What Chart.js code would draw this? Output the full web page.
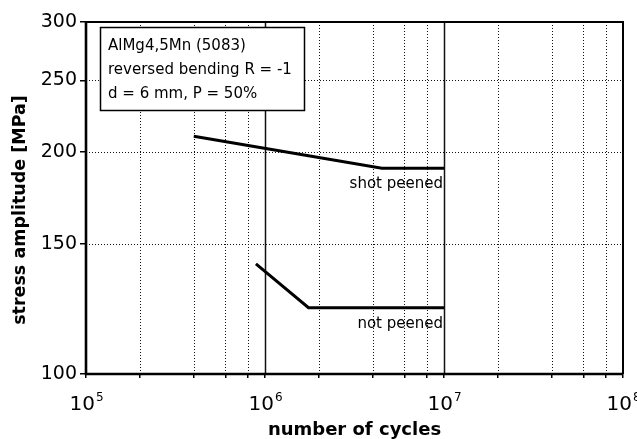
<!DOCTYPE html>
<html>
<head>
<meta charset="utf-8">
<script src="https://cdn.jsdelivr.net/npm/chart.js@4/dist/chart.umd.min.js"></script>
<style>
  html, body { margin: 0; padding: 0; background: #fff; }
  #wrap { width: 637px; height: 439px; }
</style>
</head>
<body>
<div id="wrap"><canvas id="c" width="637" height="439"></canvas></div>
<script>
// S-N curves, AlMg4,5Mn (5083), reversed bending
const shotPeenedCycles = [4e5, 4.5e6, 1e7];
const shotPeenedStress = [210, 190, 190];
const notPeenedCycles  = [8.9e5, 1.75e6, 1e7];
const notPeenedStress  = [141, 123, 123];

const xTickValues = [1e5, 2e5, 4e5, 6e5, 8e5,
                     1e6, 2e6, 4e6, 6e6, 8e6,
                     1e7, 2e7, 4e7, 6e7, 8e7, 1e8];
const yTickValues = [100, 150, 200, 250, 300];
const xDecades = [1e5, 1e6, 1e7, 1e8];

const infoLines = ['AlMg4,5Mn (5083)', 'reversed bending R = -1', 'd = 6 mm, P = 50%'];
const seriesNames = ['shot peened', 'not peened'];
const yTitle = 'stress amplitude [MPa]';
const xTitle = 'number of cycles';

const FONT = "'DejaVu Sans', 'Liberation Sans', sans-serif";
Chart.defaults.font.family = FONT;
Chart.defaults.color = '#000';

function toPoints(xs, ys) { return xs.map((x, i) => ({ x: x, y: ys[i] })); }

// grid lines, frame, info box, curve labels and exponent tick labels
const decor = {
  id: 'decor',
  beforeDatasetsDraw(chart) {
    const { ctx, chartArea: a, scales: { x, y } } = chart;
    ctx.save();
    ctx.strokeStyle = '#111';
    // vertical grid
    xTickValues.forEach(v => {
      if (v === xTickValues[0] || v === xTickValues[xTickValues.length - 1]) return;
      const px = Math.round(x.getPixelForValue(v)) + 0.5;
      const decade = xDecades.includes(v);
      ctx.setLineDash(decade ? [] : [1, 2]);
      ctx.lineWidth = decade ? 1.5 : 1;
      ctx.beginPath(); ctx.moveTo(px, a.top); ctx.lineTo(px, a.bottom); ctx.stroke();
    });
    // horizontal grid
    ctx.setLineDash([1, 2]);
    ctx.lineWidth = 1;
    yTickValues.slice(1, -1).forEach(v => {
      const py = Math.round(y.getPixelForValue(v)) + 0.5;
      ctx.beginPath(); ctx.moveTo(a.left, py); ctx.lineTo(a.right, py); ctx.stroke();
    });
    ctx.setLineDash([]);

    // info box
    const bx = a.left + 14, by = a.top + 5, bw = 204, bh = 83;
    ctx.fillStyle = '#fff';
    ctx.fillRect(bx, by, bw, bh);
    ctx.strokeStyle = '#000';
    ctx.lineWidth = 1.5;
    ctx.strokeRect(bx + 0.5, by + 0.5, bw, bh);
    ctx.fillStyle = '#000';
    ctx.font = '15px ' + FONT;
    ctx.textAlign = 'left';
    ctx.textBaseline = 'middle';
    infoLines.forEach((t, i) => ctx.fillText(t, bx + 8, by + 19 + i * 24));
    ctx.restore();
  },
  afterDatasetsDraw(chart) {
    const { ctx, chartArea: a, scales: { x, y } } = chart;
    ctx.save();
    // curve labels under the run-out end of each curve
    ctx.fillStyle = '#000';
    ctx.font = '15px ' + FONT;
    ctx.textAlign = 'right';
    ctx.textBaseline = 'middle';
    chart.data.datasets.forEach((ds, i) => {
      const last = ds.data[ds.data.length - 1];
      ctx.fillText(seriesNames[i], x.getPixelForValue(last.x) - 1, y.getPixelForValue(last.y) + 16);
    });

    // frame
    ctx.strokeStyle = '#000';
    ctx.lineWidth = 2;
    ctx.beginPath();
    ctx.moveTo(a.left, a.top); ctx.lineTo(a.right, a.top); ctx.lineTo(a.right, a.bottom);
    ctx.stroke();
    ctx.lineWidth = 2.6;
    ctx.beginPath();
    ctx.moveTo(a.left, a.top); ctx.lineTo(a.left, a.bottom); ctx.lineTo(a.right, a.bottom);
    ctx.stroke();

    // decade labels 10^n
    ctx.textAlign = 'left';
    ctx.textBaseline = 'alphabetic';
    xDecades.forEach(v => {
      const px = x.getPixelForValue(v);
      const exp = String(Math.round(Math.log10(v)));
      ctx.font = '20px ' + FONT;
      const wb = ctx.measureText('10').width;
      ctx.font = '12px ' + FONT;
      const we = ctx.measureText(exp).width;
      const x0 = px - (wb + we) / 2;
      ctx.font = '20px ' + FONT;
      ctx.fillText('10', x0, a.bottom + 36);
      ctx.font = '12px ' + FONT;
      ctx.fillText(exp, x0 + wb + 1, a.bottom + 27);
    });

    // axis titles
    ctx.textAlign = 'center';
    ctx.textBaseline = 'middle';
    ctx.font = 'bold 18px ' + FONT;
    ctx.fillText(xTitle, (a.left + a.right) / 2, a.bottom + 56);
    ctx.save();
    ctx.translate(20, (a.top + a.bottom) / 2 + 12);
    ctx.rotate(-Math.PI / 2);
    ctx.font = 'bold 17.5px ' + FONT;
    ctx.fillText(yTitle, 0, 0);
    ctx.restore();
    ctx.restore();
  }
};

new Chart(document.getElementById('c'), {
  type: 'scatter',
  data: {
    datasets: [
      { label: seriesNames[0], data: toPoints(shotPeenedCycles, shotPeenedStress) },
      { label: seriesNames[1], data: toPoints(notPeenedCycles, notPeenedStress) }
    ]
  },
  options: {
    responsive: false,
    animation: false,
    layout: { padding: { top: 22, right: 14, left: 0, bottom: 0 } },
    elements: {
      line: { borderColor: '#000', borderWidth: 3, tension: 0 },
      point: { radius: 0, hoverRadius: 0 }
    },
    datasets: { scatter: { showLine: true, borderColor: '#000' } },
    plugins: { legend: { display: false }, tooltip: { enabled: false } },
    scales: {
      x: {
        type: 'logarithmic',
        min: 1e5, max: 1e8,
        afterBuildTicks: s => { s.ticks = xTickValues.map(v => ({ value: v })); },
        afterFit: s => { s.height = 65; },
        ticks: { autoSkip: false, maxRotation: 0, callback: () => '' },
        grid: { drawOnChartArea: false, drawTicks: true, tickLength: 4, color: '#000', lineWidth: 1.5 },
        border: { display: false },
        title: { display: false }
      },
      y: {
        type: 'logarithmic',
        min: 100, max: 300,
        afterBuildTicks: s => { s.ticks = yTickValues.map(v => ({ value: v })); },
        afterFit: s => { s.width = 86; },
        ticks: { autoSkip: false, padding: 3, color: '#000', font: { size: 19 }, callback: v => String(v) },
        grid: { drawOnChartArea: false, drawTicks: true, tickLength: 6, color: '#000', lineWidth: 1.5 },
        border: { display: false },
        title: { display: false }
      }
    }
  },
  plugins: [decor]
});
</script>
</body>
</html>
